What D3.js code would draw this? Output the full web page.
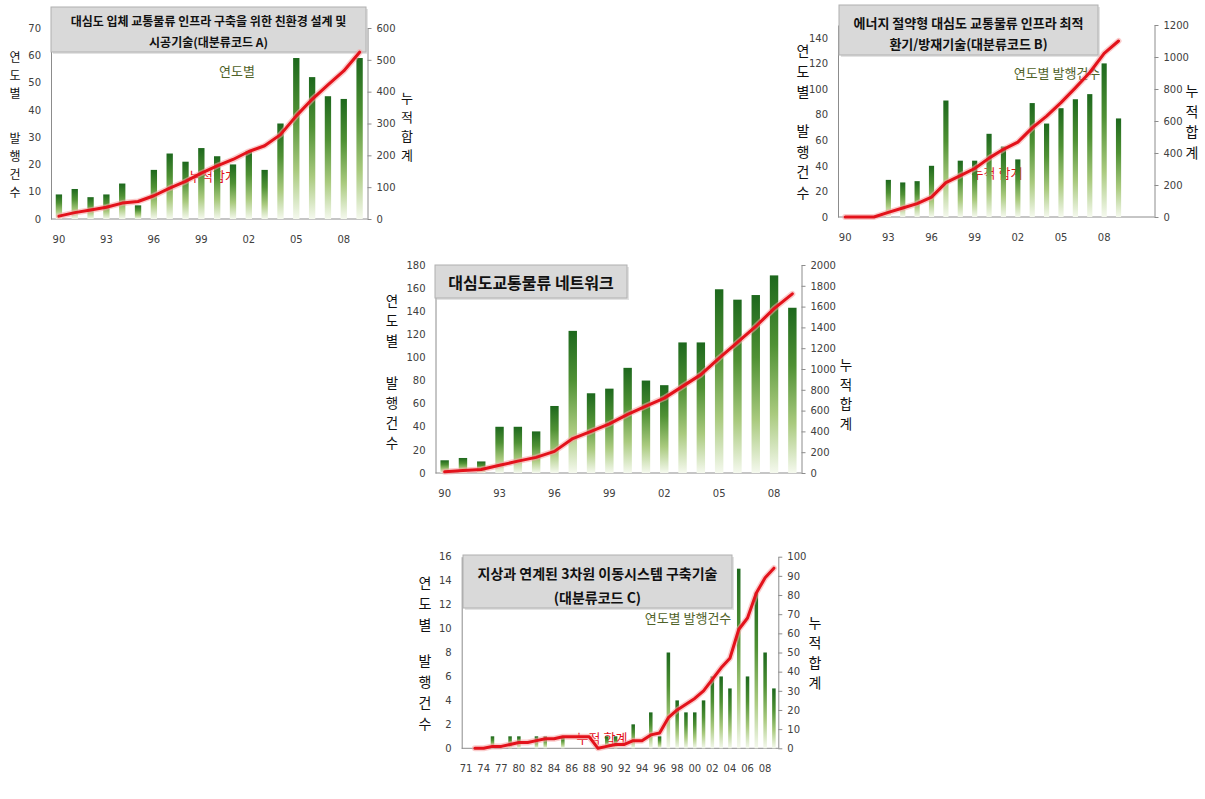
<!DOCTYPE html>
<html><head><meta charset="utf-8">
<script src="https://cdn.jsdelivr.net/npm/d3@7"></script>
<style>
body{margin:0;background:#fff}
svg{display:block}
.ax text{font-family:"DejaVu Sans",sans-serif;font-size:10px;fill:#404040}
.ax .domain{stroke:#8c8c8c;stroke-width:1}
.ax .tick line{stroke:#8c8c8c}
.kr{font-family:"Noto Sans CJK KR","Noto Sans",sans-serif}
</style>
</head><body>
<svg id="chart" width="1205" height="799"></svg>
<script>
// ---------- DATA ----------
const yearCats = ["90","91","92","93","94","95","96","97","98","99","00","01","02","03","04","05","06","07","08","09"];
const yearCatsB = ["90","91","92","93","94","95","96","97","98","99","00","01","02","03","04","05","06","07","08","09","10","11"];
const yearCatsC = ["71","73","74","76","77","79","80","81","82","83","84","85","86","87","88","89",
  "90","91","92","93","94","95","96","97","98","99","00","01","02","03","04","05","06","07","08","09"];
const tickYears = ["90","93","96","99","02","05","08"];
const tickYearsC = ["71","74","77","80","82","84","86","88","90","92","94","96","98","00","02","04","06","08"];

const countsA = [9,11,8,9,13,5,18,24,21,26,23,20,25,18,35,59,52,45,44,59];
const cumulativeA = [9,20,28,37,50,55,73,97,118,144,167,187,212,230,265,324,376,421,465,524];

const countsB = [0,0,0,29,27,28,40,91,44,44,65,55,45,89,73,85,92,96,120,77];
const cumulativeB = [0,0,0,29,56,84,124,215,259,303,368,423,468,557,630,715,807,903,1023,1100];

const countsN = [11,13,10,40,40,36,58,123,69,73,91,80,76,113,113,159,150,154,171,143];
const cumulativeN = [11,24,34,74,114,150,208,331,400,473,564,644,720,833,946,1105,1255,1409,1580,1723];

const countsC = [0,0,0,1,0,1,1,0,1,1,0,1,0,0,0,0,1,1,0,2,0,3,1,8,4,3,3,4,6,6,5,15,6,13,8,5];
const cumulativeC = [null,0,0,1,1,2,3,3,4,5,5,6,6,6,6,0,1,2,2,4,4,7,8,16,20,23,26,30,36,42,47,62,68,81,89,94];

const titleA = ["대심도 입체 교통물류 인프라 구축을 위한 친환경 설계 및","시공기술(대분류코드 A)"];
const titleB = ["에너지 절약형 대심도 교통물류 인프라 최적","환기/방재기술(대분류코드 B)"];
const titleN = ["대심도교통물류 네트워크"];
const titleC = ["지상과 연계된 3차원 이동시스템 구축기술","(대분류코드 C)"];
const leftTitle = "연도별 발행건수";
const rightTitle = "누적합계";

// ---------- DRAW ----------
const svg = d3.select("#chart");
const defs = svg.append("defs");
const grad = defs.append("linearGradient").attr("id","barGrad")
  .attr("x1",0).attr("y1",0).attr("x2",0).attr("y2",1);
[[0,"#1d681d"],[0.35,"#4f9134"],[0.7,"#a9ca7e"],[1,"#f5f9ee"]]
  .forEach(([o,c]) => grad.append("stop").attr("offset",o).attr("stop-color",c));

function vtext(str, x, y0, lh, gap, size, color) {
  let y = y0;
  for (const ch of str) {
    if (ch === " ") { y += gap; continue; }
    svg.append("text").attr("class","kr").attr("x",x).attr("y",y)
      .attr("text-anchor","middle").attr("dominant-baseline","central")
      .attr("font-size",size).attr("fill",color).text(ch);
    y += lh;
  }
}

function panel(cfg) {
  const x = d3.scaleBand().domain(cfg.cats).range([cfg.left, cfg.right]);
  const yL = d3.scaleLinear().domain([0, cfg.lmax]).range([cfg.bottom, cfg.top]);
  const yR = d3.scaleLinear().domain([0, cfg.rmax]).range([cfg.bottom, cfg.top]);
  const bw = x.bandwidth();
  const cx = c => x(c) + bw / 2;
  const fmt = d3.format("d");

  // axes
  svg.append("g").attr("class","ax").attr("transform",`translate(${cfg.left},0)`)
    .call(d3.axisLeft(yL).tickValues(d3.range(0, cfg.ltop + 1e-9, cfg.lstep)).tickFormat(fmt)
      .tickSize(0).tickSizeOuter(0).tickPadding(10));
  svg.append("g").attr("class","ax").attr("transform",`translate(${cfg.right},0)`)
    .call(d3.axisRight(yR).tickValues(d3.range(0, cfg.rmax + 1e-9, cfg.rstep)).tickFormat(fmt)
      .tickSize(4).tickSizeOuter(0).tickPadding(5));
  const xa = svg.append("g").attr("class","ax").attr("transform",`translate(0,${cfg.bottom})`)
    .call(d3.axisBottom(x).tickValues(cfg.ticks).tickSize(0).tickSizeOuter(0).tickPadding(17));
  xa.select(".domain").attr("d", `M${cfg.left},0H${cfg.right}`);

  // title box
  svg.append("rect").attr("x",cfg.box[0]+2).attr("y",cfg.box[1]+2).attr("width",cfg.box[2]-cfg.box[0]).attr("height",cfg.box[3]-cfg.box[1])
    .attr("fill","#c8c8c8").attr("opacity",0.5);
  svg.append("rect").attr("x",cfg.box[0]).attr("y",cfg.box[1]).attr("width",cfg.box[2]-cfg.box[0]).attr("height",cfg.box[3]-cfg.box[1])
    .attr("fill","#d9d9d9").attr("stroke","#b0b0b0");
  cfg.title.forEach((t,i) => svg.append("text").attr("class","kr")
    .attr("x",(cfg.box[0]+cfg.box[2])/2).attr("y",cfg.titleY[i]).attr("text-anchor","middle")
    .attr("dominant-baseline","central").attr("font-size",cfg.titleSize).attr("font-weight","bold")
    .attr("fill","#111").text(t));

  // annotations (behind bars)
  (cfg.notes || []).forEach(n => svg.append("text").attr("class","kr").attr("x",n.x).attr("y",n.y)
    .attr("text-anchor","middle").attr("dominant-baseline","central").attr("font-size",13)
    .attr("fill",n.color).text(n.text));

  // bars
  svg.append("g").selectAll("rect").data(cfg.counts).join("rect")
    .attr("x",(d,i) => cx(cfg.cats[i]) - bw*cfg.bf/2)
    .attr("width", bw*cfg.bf)
    .attr("y", d => yL(d)).attr("height", d => cfg.bottom - yL(d))
    .attr("fill","url(#barGrad)");

  // cumulative line
  const line = d3.line().defined(d => d != null)
    .x((d,i) => cx(cfg.cats[i])).y(d => yR(d));
  svg.append("path").datum(cfg.cum).attr("d",line).attr("fill","none")
    .attr("stroke","#f5a3a3").attr("stroke-width",6).attr("stroke-opacity",0.55)
    .attr("stroke-linejoin","round").attr("stroke-linecap","round");
  svg.append("path").datum(cfg.cum).attr("d",line).attr("fill","none")
    .attr("stroke","#e3121b").attr("stroke-width",3)
    .attr("stroke-linejoin","round").attr("stroke-linecap","round");

  // axis titles
  vtext(leftTitle, cfg.lt[0], cfg.lt[1], cfg.lt[2], cfg.lt[3], cfg.lt[4], "#111");
  vtext(rightTitle, cfg.rt[0], cfg.rt[1], cfg.rt[2], 0, cfg.rt[3], "#111");
}

panel({cats:yearCats, counts:countsA, cum:cumulativeA, ticks:tickYears,
  left:51, right:367.5, top:28, bottom:219, lmax:70, ltop:70, lstep:10, rmax:600, rstep:100, bf:0.4,
  box:[51,7,366,52], title:titleA, titleY:[20,41], titleSize:12,
  notes:[{text:"연도별",x:237,y:70,color:"#4f6228"},{text:"누적합계",x:213,y:175,color:"#e3121b"}],
  lt:[15,56,18,27,12], rt:[407,97,19,13]});

panel({cats:yearCatsB, counts:countsB, cum:cumulativeB, ticks:tickYears,
  left:838, right:1154.5, top:25, bottom:217, lmax:150, ltop:140, lstep:20, rmax:1200, rstep:200, bf:0.36,
  box:[839,5,1098,55], title:titleB, titleY:[22,43], titleSize:13,
  notes:[{text:"연도별 발행건수",x:1057,y:72,color:"#4f6228"},{text:"누적 합계",x:997,y:172,color:"#e3121b"}],
  lt:[803,50,20.5,18.5,14], rt:[1192,90,20.7,14]});

panel({cats:yearCats, counts:countsN, cum:cumulativeN, ticks:tickYears,
  left:435.5, right:801.5, top:265, bottom:473, lmax:180, ltop:180, lstep:20, rmax:2000, rstep:200, bf:0.46,
  box:[435,265,627,298], title:titleN, titleY:[282], titleSize:16,
  notes:[],
  lt:[392,300,20,22,13.5], rt:[846,364,19.5,13.5]});

panel({cats:yearCatsC, counts:countsC, cum:cumulativeC, ticks:tickYearsC,
  left:461.7, right:778.3, top:556.7, bottom:748.3, lmax:16, ltop:16, lstep:2, rmax:100, rstep:10, bf:0.4,
  box:[463,555,732,608], title:titleC, titleY:[573,597], titleSize:14,
  notes:[{text:"연도별 발행건수",x:688,y:617,color:"#4f6228"},{text:"누적 합계",x:602,y:737,color:"#e3121b"}],
  lt:[425,582,21,15,14], rt:[815,622,20,14]});
</script>
</body></html>
